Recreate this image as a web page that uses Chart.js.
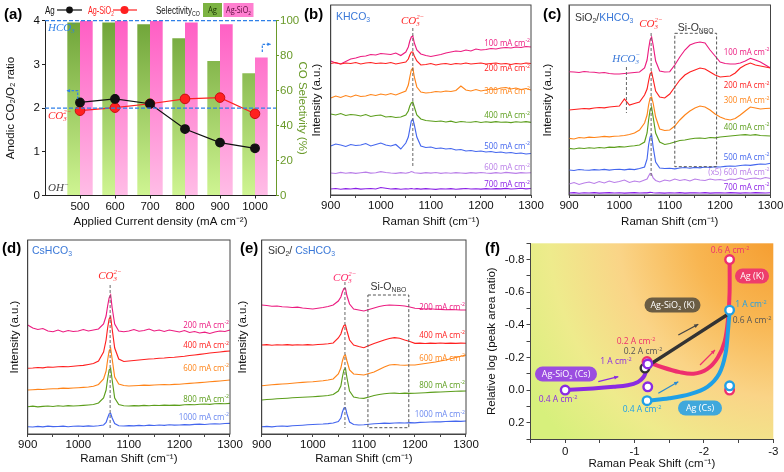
<!DOCTYPE html>
<html><head><meta charset="utf-8">
<script src="https://cdn.jsdelivr.net/npm/chart.js@4.4.0/dist/chart.umd.min.js"></script>
<style>
html,body{margin:0;padding:0;background:#fff;}
#wrap{position:relative;width:784px;height:472px;overflow:hidden;background:#fff;}
canvas{position:absolute;left:0;top:0;}
</style></head><body><div id="wrap">
<canvas id="ca" width="784" height="472"></canvas>
<canvas id="cb" width="784" height="472"></canvas>
<canvas id="cc" width="784" height="472"></canvas>
<canvas id="cd" width="784" height="472"></canvas>
<canvas id="ce" width="784" height="472"></canvas>
<canvas id="cf" width="784" height="472"></canvas>
</div>
<script>
// ---------------- DATA ----------------
// (a)
const currents = [500, 600, 700, 800, 900, 1000];
const currentTicks = [500, 600, 700, 800, 900, 1000];
const ratioAg = [2.13, 2.21, 2.10, 1.52, 1.21, 1.08];
const ratioAgSiO2 = [1.94, 2.01, 2.10, 2.21, 2.24, 1.87];
const selAg = [99, 99, 98, 90, 77, 70];
const selAgSiO2 = [100, 100, 100, 99, 98, 79];
const ratioTicks = [0, 1, 2, 3, 4];
const selTicks = [0, 20, 40, 60, 80, 100];

// Raman shift grid (cm-1) shared by spectra panels
const ramanX = [900,910,920,930,940,950,960,970,980,990,1000,1010,1020,1030,1040,1050,
  1055,1058,1061,1064,1067,1072,
  1080,1090,1100,1110,1120,1130,1140,1150,1160,1170,1180,1190,1200,1210,1220,1230,1240,1250,1260,1270,1280,1290,1300];
const ramanTicks = [900,950,1000,1050,1100,1150,1200,1250,1300];

// (b) KHCO3, intensity (a.u., offset stacked)
const b100 = [134,132,131,133.5,136,137,138.5,139,140.5,140,141.5,141,140.5,142,139.5,143, 148,154,158,159,152,145, 141,139.5,138.5,139.5,140.5,142,143,144,143.5,145,144,146,145,145.5,146.5,146,147,147.5,147,148,147.5,148.5,148];
const b200 = [131.5,132.5,131,132,131.5,132.5,131,132,132.5,131.5,132,131.5,132.5,131,132,133, 136,140,143,143,139,134, 130,130.5,131.5,130,131,131.5,130.5,131.5,131,132,131,131.5,132,131,131.5,132,131,131.5,130.5,131.5,131,132,131.5];
const b300 = [97,99,97.5,99.5,98,100,98.5,99,100.5,99.5,101,100,101.5,100,102,104, 110,118,125,127,118,108, 103,102,102.5,103.5,103,104,103.5,104.5,109,105,104,105.5,104,105,106,105.5,107,107.5,106,107,105.5,106.5,105];
const b400 = [81,80,81.5,79.5,80.5,80,79,80.5,78.5,79.5,80,78,78.5,77.5,78,80, 84,89,92,93,88,80, 76,74.5,74,73.5,74,73,73.8,72.5,73.5,73,72.8,73.5,72.5,73.2,72.6,73.4,72.8,73,72.4,73.2,72.8,73.4,72.6];
const b500 = [49,51,50,48.5,50.5,49.5,50,51.5,49,50.5,52,50,49,50.5,46,52, 58,66,74,76,70,58, 49,47.5,48,46.5,47,46,46.5,45,45.5,44,44.5,43.5,44,43,43.5,42.5,43,42,42.5,41.5,42,41,41.5];
const b600 = [22,21.5,22.6,21.8,22.4,21.6,22.2,22.8,21.9,22.3,23.4,22.5,22,21.7,22.3,21.8, 22.4,22.8,23.5,23,22.2,22, 21.6,22.3,21.9,22.5,21.7,22.2,21.8,22.4,22,21.6,22.3,21.9,22.5,22,21.7,22.3,21.8,22.6,22.1,21.7,22.4,22,22.3];
const b700 = [6,6.5,5.8,6.3,6,6.6,5.9,6.2,6.5,6,7.5,6.8,6,6.4,5.8,6.2, 6,6.3,6.5,6.2,6,6.4, 5.9,6.3,6,5.7,6.2,6,6.4,5.8,6.1,6.5,6,6.2,5.9,6.3,6,6.4,6.1,6.6,6,6.3,6.7,6.2,6.5];

// (c) SiO2/KHCO3
const c100 = [123.3,123,122.5,123.5,123,122.8,122,122.5,121.5,121,121,121.5,122,122.5,123,127, 135,146,155,158,150,134, 124,123,123.3,130,138,145,150,152,153,152,145,139,133,131.5,131,131,132,134,136.7,135,133,130,127];
const c200 = [85,85.5,86,86.5,86.2,87,87.5,87.2,88,88.5,89,96,90,91.5,93,100, 106,114,121,123,116,104, 98,97,101,108,115,120,123,125,127,126,123,120,118,118.5,119,122,127,130,132,130,129,128,127];
const c300 = [56.7,56,57.5,57,57.8,57.5,58,58.6,58.2,58.8,59,59.5,60.5,62,65,72, 80,90,97,98,92,78, 66,64.5,65,69,75,80,84,87,89,88,85,81,78,76,75,76.5,80,84,88,87,86,86.5,86.7];
const c400 = [46.7,46,47,46.5,47.2,46.8,47.5,47,47.8,47.6,48.3,48,48.8,49.2,50,53, 62,75,85,88,78,62, 53,50.5,51.5,53,54.5,55,56,56.7,57,56.5,57.5,57.2,58,58.5,59,59.5,60,60.3,59.8,60.4,59.5,59.2,59];
const c500 = [25,24.5,25.5,25,24.8,25.4,25,25.6,24.9,25.5,25.7,25.2,25.8,25.4,26.5,28, 36,50,58,60,48,33, 27,26.5,26.7,26.2,27,27.5,26.8,27.6,27.2,28,27.5,28.2,28,28.6,29,28.8,29.5,30,29.6,30.4,31,30.8,31.7];
const c600x5 = [11,12.5,10.5,12,13,11.5,13.5,12,14,12.5,13.5,15,12.5,14,13,15, 16,19,21.5,21,17,14.5, 13,15,14,16,14.5,15.5,14,16,15,14.5,16,15,15.5,14.5,16,15.5,17,15.5,16.5,17,16,17.5,16.5];
const c700 = [2,2.3,1.8,2.2,2,2.4,1.9,2.1,2.3,2,2.2,1.9,2.1,2.3,2,2.2, 2.1,2.4,2.6,2.5,2.2,2, 2.1,1.9,2.2,2,2.3,1.9,2.1,2.2,2,2.3,1.9,2.1,2.2,2,2.3,2.1,1.9,2.2,2,2.3,2.1,2,2.2];

// (d) CsHCO3
const d200 = [109,106,104.5,105.5,103,102.3,104,102,103.5,102.5,103,104.5,103,104,105,110, 118,128,136,139,126,110, 103,102.3,103,104.5,102.8,103.5,105,103,104,102.5,104,103,102,103.5,101.5,102.5,101,101.8,100.5,102,103,102.5,104];
const d400 = [65.7,66,66.5,66.2,67,66.8,67.2,67.5,67.3,67.8,68.3,68.6,69.5,70.5,73,82, 94,106,115,117.3,105,86, 75,72.5,73,73.5,74,74.5,75,75.3,75.8,76,76.5,76.8,77.3,77.8,78.5,79,79.6,80.3,81,81.5,82,82.6,83];
const d600 = [44,44.3,44.6,44.5,45,45.2,45.4,45.8,45.6,46,46.3,46.6,47,47.8,49.5,55, 63,74,83,85.7,75,57, 50,48.5,48,48.3,48.5,48.8,48.6,49,49.2,49.4,49.3,49.6,49.7,50.2,50.6,51,51.4,51.8,52.2,52.6,53,53.5,54];
const d800 = [27.3,27.8,27.2,27.6,28,27.5,28.2,27.8,28.3,28,28.3,28.6,29,29.5,31,36, 44,55,64,65.7,54,36, 29.5,28.3,28,28.4,28.2,28.6,28.3,28.7,28.5,28.9,28.6,28.8,28.7,29.2,29.5,29.3,29.8,30,29.7,30.2,30.5,30.3,30.7];
const d1000 = [7.3,7,7.6,7.2,7.8,7.4,7.5,7.9,7.3,7.7,8,7.6,8.1,7.8,8.2,9, 11.5,16,20,20.7,16,10.5, 8.2,8,8.4,8.1,8.6,8.3,8.8,8.5,9,8.7,9.2,8.9,9,9.4,9.2,9.6,9.8,9.5,10,10.2,10,10.5,10.7];

// (e) SiO2/CsHCO3
const e200 = [129,128.5,127.8,128,127.2,127,126.5,126.8,126,125.5,125,125.8,126.5,127.5,129,133, 137,142,145.5,145.7,138,130, 125,124,123,124.5,126,127.5,128.5,129,128.8,128.5,128,127,125.7,125.5,125,125.2,124.8,124.6,124.3,124.5,124.2,124,124];
const e400 = [89,89.3,88.8,89.2,89,89.4,88.9,89.2,89,89.3,89,89.5,89.8,90.2,91,96, 100,105,108.5,109,103,94, 89,87.5,86.3,88.5,90.5,92.3,94,95.5,96.3,95.8,94,92.5,90.7,90.9,90.5,90.8,90.6,91,90.7,90.9,90.6,90.8,90.7];
const e600 = [48.3,48.8,49.2,49.6,50,50.3,50.7,51.2,51.6,52,52.3,52.8,53.3,54,55,60, 66,73,78,79,73,64, 60,59.5,59,60.5,62,64.5,67,69,69.5,69,68.8,69,69,69.8,70.5,71.2,72,73,74,75.2,76.5,77.8,79];
const e800 = [34,34.5,34.8,35.2,35.5,35.8,36.2,36.5,36.8,37,37.3,37.6,38,38.5,39.5,43, 48,57,64,65.7,56,43, 37,36,35.7,37,38.5,39.5,40.3,40.7,40.8,40.5,40.9,40.6,40.7,41,41.3,41.6,41.9,42,42.3,42.5,42.7,42.9,43];
const e1000 = [7.3,7.6,7.2,7.8,8,7.7,8.2,8.5,8.8,9.2,9.5,9.8,10,10.4,11,12.5, 16,22,26,26.3,20,12, 9.5,9,9.3,9.8,10.2,10.5,10.8,10.7,11,11.2,11,11.4,11.2,11.6,11.8,12,12.2,12.1,12.5,12.6,12.8,12.7,13];

// (f) Raman peak shift vs relative log(peak area ratio)
const fXTicks = [0.5, 0, -0.5, -1, -1.5, -2, -2.5, -3];
const fYTicks = [-0.9,-0.8,-0.7,-0.6,-0.5,-0.4,-0.3,-0.2,-0.1,0,0.1,0.2,0.3];
const fSiO2Cs_x = [0, -0.4, -0.7, -0.9, -1.05, -1.13, -1.17, -1.19];
const fSiO2Cs_y = [0, -0.01, -0.02, -0.03, -0.05, -0.08, -0.12, -0.16];
const fAgK_x = [-1.18, -1.4, -1.65, -1.85, -2.05, -2.2, -2.3, -2.35, -2.37, -2.37];
const fAgK_y = [-0.175, -0.14, -0.11, -0.10, -0.13, -0.20, -0.30, -0.45, -0.60, -0.80];
const fAgCs_x = [-1.18, -1.5, -1.8, -2.05, -2.22, -2.31, -2.35, -2.37];
const fAgCs_y = [0.065, 0.05, 0.025, -0.02, -0.10, -0.22, -0.38, -0.49];
const fSiO2K_x = [-1.16, -2.33];
const fSiO2K_y = [-0.14, -0.46];
const fPtSiO2Cs_x = [0, -1.19, -1.19], fPtSiO2Cs_y = [0, -0.16, -0.02];
const fPtAgK_x = [-1.18, -2.37, -2.37], fPtAgK_y = [-0.175, -0.80, 0.0];
const fPtAgCs_x = [-1.18, -2.37, -2.37], fPtAgCs_y = [0.065, -0.49, -0.026];
const fPtSiO2K_x = [-1.15], fPtSiO2K_y = [-0.135];

// ---------------- HELPERS ----------------
Chart.defaults.font.family = '"Liberation Sans", Arial, sans-serif';
Chart.defaults.font.size = 11;
Chart.defaults.color = '#111';
Chart.defaults.animation = false;

const COL = {pink:'#ec1c80', red:'#ff2020', orange:'#ff8419', green:'#5c9e1c', blue:'#4466ee', lav:'#b97ee8', purple:'#8a1fe6'};
const SERIF = 'Liberation Serif';
const SANS = 'Open Sans';

function pad(L,T,R,B,wl,wr,hb){ return {left:L-wl, top:T, right:784-R-wr, bottom:472-B-hb}; }
const pts = (xs, ys) => xs.map((x,i)=>({x, y: ys[i]}));

// rich text: segments with italic / sub / sup / stacked sup+sub; optional horizontal squeeze sx
function rich(ctx, x, y, segs, o){
  o = Object.assign({size:10, fam:SANS, align:'left', color:'#000', sx:1}, o||{});
  const font = (sz,it,b,fam)=>`${it?'italic ':''}${b?'bold ':''}${sz}px "${fam}"`;
  let w = 0; const items = [];
  for (const s of segs){
    const fam = s.f || o.fam;
    if (s.stack){
      const sz = o.size*0.62; ctx.font = font(sz,s.i,s.b,fam);
      const ww = Math.max(ctx.measureText(s.stack[0]).width, ctx.measureText(s.stack[1]).width) + 0.5;
      items.push({s, w:ww, sz, fam}); w += ww;
    } else {
      const sz = s.s ? o.size*0.65 : o.size; ctx.font = font(sz,s.i,s.b,fam);
      const ww = ctx.measureText(s.t).width; items.push({s, w:ww, sz, fam}); w += ww;
    }
  }
  const W = w*o.sx;
  const x0 = o.align==='center' ? x - W/2 : (o.align==='right' ? x - W : x);
  ctx.save();
  ctx.translate(x0, 0); ctx.scale(o.sx, 1);
  ctx.textBaseline = 'alphabetic'; ctx.textAlign = 'left';
  const base = y + o.size*0.36;
  let cx = 0;
  for (const it of items){
    const s = it.s; ctx.fillStyle = s.c || o.color; ctx.font = font(it.sz, s.i, s.b, it.fam);
    if (s.stack){ ctx.fillText(s.stack[0], cx, base - o.size*0.42); ctx.fillText(s.stack[1], cx, base + o.size*0.22); }
    else if (s.s==='sup') ctx.fillText(s.t, cx, base - o.size*0.4);
    else if (s.s==='sub') ctx.fillText(s.t, cx, base + o.size*0.2);
    else ctx.fillText(s.t, cx, base);
    cx += it.w;
  }
  ctx.restore();
  return W;
}
const co3 = c => [{t:'CO', i:true, f:SERIF, c}, {stack:['2\u2212','3'], i:true, f:SERIF, c}];
const hco3 = c => [{t:'HCO', i:true, f:SERIF, c}, {stack:['\u2212','3'], i:true, f:SERIF, c}];
const mA = (n,c) => [{t:n+' mA cm', c}, {t:'-2', s:'sup', c}];
const siO = [{t:'Si-O', c:'#333'}, {t:'NBO', s:'sub', c:'#333'}];

function dashV(ctx, x, y1, y2){ ctx.save(); ctx.strokeStyle='#666'; ctx.lineWidth=1; ctx.setLineDash([3,2]); ctx.beginPath(); ctx.moveTo(x,y1); ctx.lineTo(x,y2); ctx.stroke(); ctx.restore(); }
function dashBox(ctx, x1,y1,x2,y2){ ctx.save(); ctx.strokeStyle='#555'; ctx.lineWidth=1; ctx.setLineDash([3,2]); ctx.strokeRect(x1,y1,x2-x1,y2-y1); ctx.restore(); }
function letter(ctx, t, x, y){ ctx.save(); ctx.fillStyle='#000'; ctx.font='bold 15px "Liberation Sans"'; ctx.textBaseline='middle'; ctx.fillText(t,x,y); ctx.restore(); }
function arrow(ctx, path, color, lw, dash, head){
  ctx.save(); ctx.strokeStyle=color; ctx.fillStyle=color; ctx.lineWidth=lw; if(dash) ctx.setLineDash(dash);
  ctx.beginPath(); ctx.moveTo(path[0][0], path[0][1]); for (let i=1;i<path.length;i++) ctx.lineTo(path[i][0], path[i][1]); ctx.stroke();
  ctx.setLineDash([]);
  const [xa,ya] = path[path.length-2], [xb,yb] = path[path.length-1];
  const ang = Math.atan2(yb-ya, xb-xa), h = head||4;
  ctx.beginPath(); ctx.moveTo(xb,yb); ctx.lineTo(xb - h*Math.cos(ang-0.45), yb - h*Math.sin(ang-0.45)); ctx.lineTo(xb - h*Math.cos(ang+0.45), yb - h*Math.sin(ang+0.45)); ctx.closePath(); ctx.fill();
  ctx.restore();
}
function vgrad(ctx, a, top, bot){ const g = ctx.createLinearGradient(0, a.top, 0, a.bottom); g.addColorStop(0, top); g.addColorStop(1, bot); return g; }

// ---------------- (a) ----------------
(function(){
  const L=45, T=20.7, R=276, B=195.5, wl=45, wr=37, hb=37.5;
  const GREEN = '#6a9a2a';
  new Chart(document.getElementById('ca'), {
    data:{datasets:[
      {type:'line', data: pts(currents, ratioAg), yAxisID:'y', borderColor:'#111', borderWidth:1.2, pointRadius:4.3, pointBackgroundColor:'#111', pointBorderColor:'#111', order:0},
      {type:'line', data: pts(currents, ratioAgSiO2), yAxisID:'y', borderColor:'#ff2020', borderWidth:1.2, pointRadius:4.8, pointBackgroundColor:'#ff2020', pointBorderColor:'#c81010', pointBorderWidth:1, order:1},
      {type:'bar', data: pts(currents, selAg), yAxisID:'y2', categoryPercentage:0.725, barPercentage:1, order:3,
        backgroundColor: c => { const a=c.chart.chartArea; return a ? vgrad(c.chart.ctx, a, '#6fa438', '#cff592') : '#9c5'; }},
      {type:'bar', data: pts(currents, selAgSiO2), yAxisID:'y2', categoryPercentage:0.725, barPercentage:1, order:3,
        backgroundColor: c => { const a=c.chart.chartArea; return a ? vgrad(c.chart.ctx, a, '#ff5ec4', '#ffbde6') : '#f8c'; }}
    ]},
    options:{responsive:false, events:[], layout:{padding:pad(L,T,R,B,wl,wr,hb)},
      plugins:{legend:{display:false}, tooltip:{enabled:false}},
      scales:{
        x:{type:'linear', min:400, max:1060, offset:false, afterBuildTicks:s=>{s.ticks=currentTicks.map(v=>({value:v}));},
          ticks:{autoSkip:false, maxRotation:0, padding:1, callback:v=>String(v), font:{size:11.5}, color:'#111'},
          grid:{display:true, drawOnChartArea:false, offset:false, tickLength:3, color:'#222'}, border:{color:'#222'},
          title:{display:true, text:'Applied Current density (mA cm\u207B\u00B2)', font:{size:11.5}, color:'#111', padding:{top:2,bottom:4}},
          afterFit:s=>{s.height=hb; s.paddingLeft=0; s.paddingRight=0;}},
        y:{position:'left', min:0, max:4, afterBuildTicks:s=>{s.ticks=ratioTicks.map(v=>({value:v}));},
          ticks:{padding:2, callback:v=>String(v), font:{size:11.5}, color:'#111'}, grid:{drawOnChartArea:false, tickLength:3, color:'#222'}, border:{color:'#222'},
          title:{display:true, text:'Anodic CO\u2082/O\u2082 ratio', font:{size:11.5}, color:'#111', padding:{top:4,bottom:4}},
          afterFit:s=>{s.width=wl; s.paddingTop=0; s.paddingBottom=0;}},
        y2:{position:'right', min:0, max:100, afterBuildTicks:s=>{s.ticks=selTicks.map(v=>({value:v}));},
          ticks:{padding:1, callback:v=>String(v), font:{size:11.5}, color:GREEN}, grid:{drawOnChartArea:false, tickLength:3, color:GREEN}, border:{color:GREEN},
          title:{display:true, text:'CO Selectivity (%)', font:{size:11.5}, color:GREEN, padding:{top:4,bottom:4}},
          afterFit:s=>{s.width=wr; s.paddingTop=0; s.paddingBottom=0;}}
      }},
    plugins:[{id:'decA', afterDatasetsDraw(chart){
      const {ctx, chartArea:a, scales:{y}} = chart;
      ctx.save();
      ctx.strokeStyle='#2f80e8'; ctx.lineWidth=1.3; ctx.setLineDash([4,2]);
      [4,2].forEach(v=>{ const py=y.getPixelForValue(v); ctx.beginPath(); ctx.moveTo(a.left,py); ctx.lineTo(a.right,py); ctx.stroke(); });
      ctx.restore();
      rich(ctx, 48, 27, hco3('#2f80e8'), {size:11});
      rich(ctx, 48, 115, co3('#ff2a2a'), {size:11});
      rich(ctx, 48, 187, [{t:'OH', i:true, f:SERIF, c:'#444'}, {t:'\u2212', s:'sup', i:true, f:SERIF, c:'#444'}], {size:11});
      arrow(ctx, [[77.7,99],[77.7,90.7],[66.5,90.7]], '#2f80e8', 1.2, [2.5,1.5], 4);
      arrow(ctx, [[262.3,52],[262.3,44.3],[271,44.3]], '#2f80e8', 1.2, [2.5,1.5], 4);
      letter(ctx, '(a)', 4, 15);
      // legend
      const ly = 10, LF = 'Liberation Sans';
      rich(ctx, 45, ly, [{t:'Ag', c:'#111'}], {size:10, fam:LF, sx:0.8});
      ctx.save(); ctx.strokeStyle='#111'; ctx.lineWidth=1.2; ctx.beginPath(); ctx.moveTo(57,ly); ctx.lineTo(82,ly); ctx.stroke();
      ctx.fillStyle='#111'; ctx.beginPath(); ctx.arc(69.5,ly,3.4,0,7); ctx.fill(); ctx.restore();
      rich(ctx, 88, ly, [{t:'Ag-SiO', c:'#ff2020'}, {t:'2', s:'sub', c:'#ff2020'}], {size:10, fam:LF, sx:0.72});
      ctx.save(); ctx.strokeStyle='#ff2020'; ctx.lineWidth=1.2; ctx.beginPath(); ctx.moveTo(113,ly); ctx.lineTo(137,ly); ctx.stroke();
      ctx.fillStyle='#ff2020'; ctx.beginPath(); ctx.arc(124.5,ly,4,0,7); ctx.fill(); ctx.restore();
      rich(ctx, 156, ly, [{t:'Selectivity', c:'#111'}, {t:'CO', s:'sub', c:'#111'}], {size:10, fam:LF, sx:0.8});
      ctx.save();
      ctx.fillStyle='#7cb342'; ctx.fillRect(203,3,19,14);
      ctx.fillStyle='#ff7fd0'; ctx.fillRect(223.5,3,30,14);
      ctx.restore();
      rich(ctx, 212.5, ly, [{t:'Ag', c:'#1a3300'}], {size:9, fam:'Open Sans', align:'center', sx:0.85});
      rich(ctx, 238.5, ly, [{t:'Ag-SiO', c:'#5a0a3a'}, {t:'2', s:'sub', c:'#5a0a3a'}], {size:9, fam:'Open Sans', align:'center', sx:0.8});
    }}]
  });
})();

// ---------------- spectra panels ----------------
function spectra(id, rect, wl, hb, series, decor){
  return new Chart(document.getElementById(id), {
    type:'line',
    data:{datasets: series.map(s=>({data: pts(ramanX, s.y), borderColor:s.c, borderWidth:1.15, pointRadius:0, tension:0, fill:false}))},
    options:{responsive:false, events:[], layout:{padding:pad(rect.L,rect.T,rect.R,rect.B,wl,0,hb)},
      plugins:{legend:{display:false}, tooltip:{enabled:false}},
      scales:{
        x:{type:'linear', min:900, max:1300, afterBuildTicks:s=>{s.ticks=ramanTicks.map(v=>({value:v}));},
          ticks:{autoSkip:false, maxRotation:0, padding:1, callback:v=>(v%100===0 ? String(v) : ''), font:{size:11.5}, color:'#111'},
          grid:{drawOnChartArea:false, tickLength:3, color:'#444'}, border:{color:'#444'},
          title:{display:true, text:'Raman Shift (cm\u207B\u00B9)', font:{size:11.5}, color:'#111', padding:{top:2,bottom:4}},
          afterFit:s=>{s.height=hb; s.paddingLeft=0; s.paddingRight=0;}},
        y:{min:0, max:rect.B-rect.T, ticks:{display:false}, grid:{display:false}, border:{color:'#444'},
          title:{display:true, text:'Intensity (a.u.)', font:{size:11.5}, color:'#111', padding:{top:4,bottom:4}},
          afterFit:s=>{s.width=wl; s.paddingTop=0; s.paddingBottom=0;}}
      }},
    plugins:[{id:'dec'+id, afterDatasetsDraw(chart){
      const {ctx, chartArea:a} = chart;
      ctx.save(); ctx.strokeStyle='#444'; ctx.lineWidth=1; ctx.strokeRect(a.left, a.top, a.right-a.left, a.bottom-a.top); ctx.restore();
      decor(chart, ctx, a, chart.scales.x);
    }}]
  });
}
const LS = 9, LSX = 0.88; // spectra label size / squeeze

// (b)
spectra('cb', {L:330.7, T:5, R:531, B:195}, 25.2, 37.9, [
  {y:b700, c:COL.purple}, {y:b600, c:COL.lav}, {y:b500, c:COL.blue}, {y:b400, c:COL.green},
  {y:b300, c:COL.orange}, {y:b200, c:COL.red}, {y:b100, c:COL.pink}
], (chart, ctx, a, x) => {
  const px = x.getPixelForValue(1064);
  dashV(ctx, px, 28, 168);
  rich(ctx, px, 20, co3('#ff2a2a'), {size:11, align:'center'});
  rich(ctx, 336, 16, [{t:'KHCO', c:'#3a78d8'}, {t:'3', s:'sub', c:'#3a78d8'}], {size:10.5, fam:'Liberation Sans'});
  letter(ctx, '(b)', 304, 15);
  const xr = a.right - 1;
  [['100',COL.pink,42.7],['200',COL.red,68],['300',COL.orange,90.7],['400',COL.green,115],['500',COL.blue,145.5],['600',COL.lav,167],['700',COL.purple,184]]
    .forEach(([n,c,y]) => rich(ctx, xr, y, mA(n,c), {size:LS, align:'right', sx:LSX}));
});

// (c)
spectra('cc', {L:569, T:5, R:770.5, B:195}, 32, 37.9, [
  {y:c700, c:COL.purple}, {y:c600x5, c:COL.lav}, {y:c500, c:COL.blue}, {y:c400, c:COL.green},
  {y:c300, c:COL.orange}, {y:c200, c:COL.red}, {y:c100, c:COL.pink}
], (chart, ctx, a, x) => {
  const px = x.getPixelForValue(1063);
  dashV(ctx, px, 33, 176);
  rich(ctx, px, 23, co3('#ff2a2a'), {size:11, align:'center'});
  const ph = x.getPixelForValue(1014);
  dashV(ctx, ph, 67, 113);
  rich(ctx, ph, 58, hco3('#3a78d8'), {size:11, align:'center'});
  dashBox(ctx, x.getPixelForValue(1110), 33.3, x.getPixelForValue(1193), 166.7);
  rich(ctx, (x.getPixelForValue(1110)+x.getPixelForValue(1193))/2, 27.5, siO, {size:10.5, fam:'Liberation Sans', align:'center'});
  rich(ctx, 575, 17, [{t:'SiO', c:'#333'}, {t:'2', s:'sub', c:'#333'}, {t:'/', c:'#333'}, {t:'KHCO', c:'#3a78d8'}, {t:'3', s:'sub', c:'#3a78d8'}], {size:10.5, fam:'Liberation Sans'});
  letter(ctx, '(c)', 543, 15);
  const xr = a.right - 1;
  [['100',COL.pink,51.7],['200',COL.red,85],['300',COL.orange,100],['400',COL.green,126.7],['500',COL.blue,156.7],['700',COL.purple,186.7]]
    .forEach(([n,c,y]) => rich(ctx, xr, y, mA(n,c), {size:LS, align:'right', sx:LSX}));
  rich(ctx, xr, 171.7, [{t:'(x5) 600 mA cm', c:COL.lav}, {t:'-2', s:'sup', c:COL.lav}], {size:LS, align:'right', sx:LSX});
});

// (d)
spectra('cd', {L:27.7, T:240, R:230, B:434}, 23.7, 36.2, [
  {y:d1000, c:COL.blue}, {y:d800, c:COL.green}, {y:d600, c:COL.orange}, {y:d400, c:COL.red}, {y:d200, c:COL.pink}
], (chart, ctx, a, x) => {
  const px = x.getPixelForValue(1063);
  dashV(ctx, px, 285, 428);
  rich(ctx, px, 275, co3('#ff2a2a'), {size:11, align:'center'});
  rich(ctx, 32, 250, [{t:'CsHCO', c:'#3a78d8'}, {t:'3', s:'sub', c:'#3a78d8'}], {size:10.5, fam:'Liberation Sans'});
  letter(ctx, '(d)', 2, 249);
  const xr = a.right - 1;
  [['200',COL.pink,324.3],['400',COL.red,345],['600',COL.orange,367.7],['800',COL.green,398.3],['1000','#6a88f0',416.7]]
    .forEach(([n,c,y]) => rich(ctx, xr, y, mA(n,c), {size:LS, align:'right', sx:LSX}));
});

// (e)
spectra('ce', {L:261.7, T:240, R:466, B:434}, 29.6, 36.2, [
  {y:e1000, c:COL.blue}, {y:e800, c:COL.green}, {y:e600, c:COL.orange}, {y:e400, c:COL.red}, {y:e200, c:COL.pink}
], (chart, ctx, a, x) => {
  const px = x.getPixelForValue(1063);
  dashV(ctx, px, 282, 428);
  rich(ctx, px, 276.7, co3('#ff2a6a'), {size:11, align:'center'});
  dashBox(ctx, x.getPixelForValue(1108), 295, x.getPixelForValue(1188), 427.7);
  rich(ctx, (x.getPixelForValue(1108)+x.getPixelForValue(1188))/2, 286.5, siO, {size:10.5, fam:'Liberation Sans', align:'center'});
  rich(ctx, 268, 250, [{t:'SiO', c:'#333'}, {t:'2', s:'sub', c:'#333'}, {t:'/ ', c:'#333'}, {t:'CsHCO', c:'#3a78d8'}, {t:'3', s:'sub', c:'#3a78d8'}], {size:10.5, fam:'Liberation Sans'});
  letter(ctx, '(e)', 240, 249);
  const xr = a.right - 1;
  [['200',COL.pink,306.7],['400',COL.red,334.3],['600',COL.orange,357.7],['800',COL.green,384.3],['1000','#6a88f0',414]]
    .forEach(([n,c,y]) => rich(ctx, xr, y, mA(n,c), {size:LS, align:'right', sx:LSX}));
});

// ---------------- (f) ----------------
(function(){
  const L=530.5, T=243.3, R=773.3, B=439, wl=50, hb=35.5;
  const P='#8a2be2', K='#ee2f6e', C='#1fa0e6', D='#333';
  const open = (xs, ys, c) => ({data: pts(xs, ys), showLine:false, pointRadius:4.3, pointBorderWidth:2.4, pointBackgroundColor:'#fff', pointBorderColor:c});
  const curve = (xs, ys, c, w) => ({data: pts(xs, ys), showLine:true, borderColor:c, borderWidth:w, pointRadius:0, tension:0.35, fill:false});
  new Chart(document.getElementById('cf'), {
    type:'scatter',
    data:{datasets:[
      open(fPtSiO2Cs_x, fPtSiO2Cs_y, P),
      open(fPtAgCs_x, fPtAgCs_y, C),
      open(fPtAgK_x, fPtAgK_y, K),
      open(fPtSiO2K_x, fPtSiO2K_y, D),
      curve(fSiO2K_x, fSiO2K_y, D, 3.5),
      curve(fSiO2Cs_x, fSiO2Cs_y, P, 4),
      curve(fAgCs_x, fAgCs_y, C, 4),
      curve(fAgK_x, fAgK_y, K, 4)
    ]},
    options:{responsive:false, events:[], layout:{padding:pad(L,T,R,B,wl,0,hb)},
      plugins:{legend:{display:false}, tooltip:{enabled:false}},
      scales:{
        x:{type:'linear', reverse:true, min:-3, max:0.5, afterBuildTicks:s=>{s.ticks=fXTicks.map(v=>({value:v}));},
          ticks:{autoSkip:false, maxRotation:0, padding:2, callback:v=>(Number.isInteger(v) ? (v===0?'0':String(v)) : ''), font:{size:11.5}, color:'#111'},
          grid:{drawOnChartArea:false, tickLength:4, color:'#444'}, border:{color:'#444'},
          title:{display:true, text:'Raman Peak Shift (cm\u207B\u00B9)', font:{size:11.5}, color:'#111', padding:{top:2,bottom:4}},
          afterFit:s=>{s.height=hb; s.paddingLeft=0; s.paddingRight=0;}},
        y:{type:'linear', reverse:true, min:-0.9, max:0.3, afterBuildTicks:s=>{s.ticks=fYTicks.map(v=>({value:v}));},
          ticks:{autoSkip:false, padding:2, callback:v=>{const k=Math.round(v*10); return k%2===0 ? (k/10).toFixed(1) : '';}, font:{size:11.5}, color:'#111'},
          grid:{drawOnChartArea:false, tickLength:4, color:'#444'}, border:{color:'#444'},
          title:{display:true, text:'Relative log (peak area ratio)', font:{size:11.5}, color:'#111', padding:{top:4,bottom:4}},
          afterFit:s=>{s.width=wl; s.paddingTop=0; s.paddingBottom=0;}}
      }},
    plugins:[{id:'bgF', beforeDraw(chart){
      const {ctx, chartArea:a} = chart;
      const g = ctx.createRadialGradient(a.right+10, a.top-10, 0, a.right+10, a.top-10, 300);
      g.addColorStop(0, '#f59a2c'); g.addColorStop(0.3, '#f8b652'); g.addColorStop(0.55, '#fad487');
      g.addColorStop(0.78, '#eeeb8c'); g.addColorStop(1, '#d7f07c');
      ctx.save(); ctx.fillStyle=g; ctx.fillRect(a.left, a.top, a.right-a.left, a.bottom-a.top); ctx.restore();
    }, afterDatasetsDraw(chart){
      const {ctx} = chart;
      const badge = (cx, cy, w, h, col, segs) => {
        ctx.save(); ctx.fillStyle=col; ctx.beginPath();
        const r=h/2, x0=cx-w/2, y0=cy-h/2;
        ctx.moveTo(x0+r,y0); ctx.lineTo(x0+w-r,y0); ctx.arc(x0+w-r,cy,r,-Math.PI/2,Math.PI/2); ctx.lineTo(x0+r,y0+h); ctx.arc(x0+r,cy,r,Math.PI/2,3*Math.PI/2); ctx.closePath(); ctx.fill(); ctx.restore();
        rich(ctx, cx, cy, segs, {size:9, align:'center', color:'#fff'});
      };
      badge(752, 276, 34, 15, '#ee3d6c', [{t:'Ag (K)'}]);
      badge(672.5, 305, 56, 15, '#6b5d44', [{t:'Ag-SiO'}, {t:'2', s:'sub'}, {t:' (K)'}]);
      badge(566, 374, 62, 15, '#9b4de0', [{t:'Ag-SiO'}, {t:'2', s:'sub'}, {t:' (Cs)'}]);
      badge(700, 408, 44, 15, '#3fa8dc', [{t:'Ag (Cs)'}]);
      const lab = (x,y,txt,c) => rich(ctx, x, y, [{t:txt+' A cm', c}, {t:'-2', s:'sup', c}], {size:8.5, align:'center'});
      lab(730, 250, '0.6', K);
      lab(751, 304, '1', C);
      lab(752, 320, '0.6', '#555');
      lab(636, 341, '0.2', K);
      lab(643, 351, '0.2', '#555');
      lab(616, 361, '1', P);
      lab(558, 399, '0.4', P);
      lab(642, 409, '0.4', C);
      arrow(ctx, [[598.3,381.7],[618.3,376.7]], P, 1.3, null, 4.5);
      arrow(ctx, [[678.3,335],[698.3,324.3]], '#444', 1.3, null, 4.5);
      arrow(ctx, [[700,365],[715,350]], K, 1.3, null, 4.5);
      arrow(ctx, [[658.3,393.3],[678.3,381.7]], '#2a8ad0', 1.3, null, 4.5);
      letter(ctx, '(f)', 485, 249);
    }}]
  });
})();
</script></body></html>
